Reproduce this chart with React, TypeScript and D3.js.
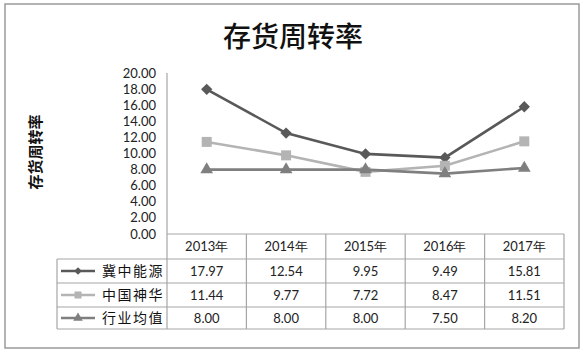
import React, { useEffect, useRef } from 'react';
import * as d3 from 'd3';

const years = ['2013年', '2014年', '2015年', '2016年', '2017年'];
const seriesNames = ['冀中能源', '中国神华', '行业均值'];
const jizhong = [17.97, 12.54, 9.95, 9.49, 15.81];
const shenhua = [11.44, 9.77, 7.72, 8.47, 11.51];
const industry = [8.0, 8.0, 8.0, 7.5, 8.2];
const yTicks = [0, 2, 4, 6, 8, 10, 12, 14, 16, 18, 20];

const App = () => {
  const ref = useRef(null);

  useEffect(() => {
    const svg = d3.select(ref.current);
    svg.selectAll('*').remove();

    const numFont = 'Lato, "Noto Sans", sans-serif';
    const cjkFont = '"Noto Sans CJK SC", sans-serif';
    const grid = '#a6a6a6';

    const x = d3.scaleBand().domain(years).range([167, 564]);
    const y = d3.scaleLinear().domain([0, 20]).range([234, 73]);
    const rowY = [234, 259, 283, 307, 329];
    const tableLeft = 57;

    const series = [
      { name: seriesNames[0], values: jizhong, color: '#595959', symbol: 'diamond' },
      { name: seriesNames[1], values: shenhua, color: '#b4b4b4', symbol: 'square' },
      { name: seriesNames[2], values: industry, color: '#7f7f7f', symbol: 'triangle' },
    ];

    // outer frame
    svg.append('rect')
      .attr('x', 5).attr('y', 4)
      .attr('width', 574).attr('height', 344)
      .attr('fill', '#fff')
      .attr('stroke', '#9a9a9a')
      .attr('stroke-width', 1.5);

    // title
    svg.append('text')
      .attr('x', 293).attr('y', 47)
      .attr('text-anchor', 'middle')
      .style('font-family', cjkFont)
      .style('font-size', '28px')
      .style('font-weight', 500)
      .attr('fill', '#111')
      .text('存货周转率');

    // y axis title
    svg.append('text')
      .attr('transform', 'translate(41,152) rotate(-90)')
      .attr('text-anchor', 'middle')
      .style('font-family', cjkFont)
      .style('font-size', '15px')
      .style('font-weight', 700)
      .attr('fill', '#111')
      .text('存货周转率');

    // y tick labels
    svg.selectAll('text.ytick')
      .data(yTicks)
      .enter()
      .append('text')
      .attr('class', 'ytick')
      .attr('x', 156)
      .attr('y', d => y(d))
      .attr('dy', '0.35em')
      .attr('text-anchor', 'end')
      .style('font-family', numFont)
      .style('font-size', '13px')
      .attr('fill', '#222')
      .text(d => d3.format('.2f')(d));

    // table lines
    const g = svg.append('g').attr('stroke', grid).attr('stroke-width', 1.2);
    g.append('line').attr('x1', 167).attr('x2', 167).attr('y1', y(20)).attr('y2', rowY[4]);
    g.append('line').attr('x1', 167).attr('x2', x.range()[1]).attr('y1', rowY[0]).attr('y2', rowY[0]);
    rowY.slice(1).forEach(ry => {
      g.append('line').attr('x1', tableLeft).attr('x2', x.range()[1]).attr('y1', ry).attr('y2', ry);
    });
    g.append('line').attr('x1', tableLeft).attr('x2', tableLeft).attr('y1', rowY[1]).attr('y2', rowY[4]);
    years.forEach(yr => {
      const xr = x(yr) + x.bandwidth();
      g.append('line').attr('x1', xr).attr('x2', xr).attr('y1', rowY[0]).attr('y2', rowY[4]);
    });

    // header
    svg.selectAll('text.year')
      .data(years)
      .enter()
      .append('text')
      .attr('class', 'year')
      .attr('x', d => x(d) + x.bandwidth() / 2)
      .attr('y', (rowY[0] + rowY[1]) / 2)
      .attr('dy', '0.35em')
      .attr('text-anchor', 'middle')
      .style('font-family', numFont)
      .style('font-size', '13px')
      .attr('fill', '#222')
      .text(d => d);

    const symbolFor = (s, size) => {
      if (s === 'triangle') return d3.symbol(d3.symbolTriangle, size)();
      return d3.symbol(d3.symbolSquare, size)();
    };
    const rot = s => (s === 'diamond' ? ' rotate(45)' : '');

    const line = d3.line()
      .x((d, i) => x(years[i]) + x.bandwidth() / 2)
      .y(d => y(d));

    series.forEach((s, si) => {
      // plot line
      svg.append('path')
        .attr('d', line(s.values))
        .attr('fill', 'none')
        .attr('stroke', s.color)
        .attr('stroke-width', 2.6);
      svg.selectAll(`path.m${si}`)
        .data(s.values)
        .enter()
        .append('path')
        .attr('class', `m${si}`)
        .attr('d', symbolFor(s.symbol, s.symbol === 'diamond' ? 64 : s.symbol === 'square' ? 100 : 70))
        .attr('transform', (d, i) => `translate(${x(years[i]) + x.bandwidth() / 2},${y(d)})${rot(s.symbol)}`)
        .attr('fill', s.color);

      // table row
      const cy = (rowY[si + 1] + rowY[si + 2]) / 2;
      svg.append('line')
        .attr('x1', 61).attr('x2', 95)
        .attr('y1', cy).attr('y2', cy)
        .attr('stroke', s.color)
        .attr('stroke-width', 2.6);
      svg.append('path')
        .attr('d', symbolFor(s.symbol, s.symbol === 'diamond' ? 30 : s.symbol === 'square' ? 50 : 40))
        .attr('transform', `translate(78,${cy})${rot(s.symbol)}`)
        .attr('fill', s.color);
      svg.append('text')
        .attr('x', 102).attr('y', cy)
        .attr('dy', '0.35em')
        .style('font-family', cjkFont)
        .style('font-size', '14px')
        .style('letter-spacing', '1.5px')
        .attr('fill', '#111')
        .text(s.name);
      svg.selectAll(`text.v${si}`)
        .data(s.values)
        .enter()
        .append('text')
        .attr('class', `v${si}`)
        .attr('x', (d, i) => x(years[i]) + x.bandwidth() / 2)
        .attr('y', cy)
        .attr('dy', '0.35em')
        .attr('text-anchor', 'middle')
        .style('font-family', numFont)
        .style('font-size', '13px')
        .attr('fill', '#222')
        .text(d => d3.format('.2f')(d));
    });
  }, []);

  return (
    <svg
      ref={ref}
      width={588}
      height={355}
      style={{ position: 'absolute', left: 0, top: 0, background: '#fff' }}
    />
  );
};

export default App;
